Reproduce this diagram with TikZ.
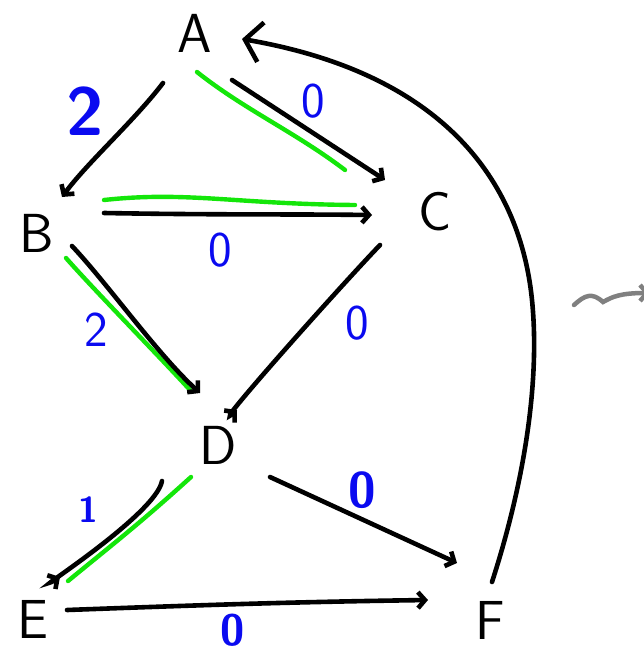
\documentclass[tikz,border=0pt]{standalone}
\usepackage{fontspec}
\usetikzlibrary{arrows.meta}
\definecolor{hlgreen}{RGB}{20,230,10}
\definecolor{lblblue}{RGB}{10,10,240}
\definecolor{sqgray}{RGB}{128,128,128}
\begin{document}
\begin{tikzpicture}[x=1pt,y=-1pt,
  letter/.style={font=\sffamily\fontsize{55}{55}\selectfont, inner sep=0pt},
  wt/.style={text=lblblue, font=\sffamily\fontsize{50}{50}\selectfont, inner sep=0pt},
  wtb/.style={text=lblblue, font=\sffamily\bfseries\fontsize{50}{50}\selectfont, inner sep=0pt},
  edge/.style={draw=black, line width=4.6pt, line cap=round, -{Straight Barb[length=7pt,width=16pt]}},
  hl/.style={draw=hlgreen, line width=4.4pt, line cap=round},
]
\useasboundingbox (0,0) rectangle (644,656);
% vertices
\node[letter] (A) at (195,33) {A};
\node[letter] (B) at (37,233) {B};
\node[letter] (C) at (435,212) {C};
\node[letter] (D) at (218,445) {D};
\node[letter] (E) at (33,619) {E};
\node[letter] (F) at (490,620) {F};
% green highlights
\draw[hl] ([shift={(2,39)}]A.center) .. controls ([shift={(50,77)}]A.center) and ([shift={(-140,-80)}]C.center) .. ([shift={(-90,-42)}]C.center);
\draw[hl] ([shift={(67,-33)}]B.center) .. controls ([shift={(150,-42)}]B.center) and ([shift={(-200,-8)}]C.center) .. ([shift={(-80,-7)}]C.center);
\draw[hl] ([shift={(29,25)}]B.center) .. controls ([shift={(60,60)}]B.center) and ([shift={(-60,-90)}]D.center) .. ([shift={(-28,-55)}]D.center);
\draw[hl] ([shift={(-27,32)}]D.center) .. controls ([shift={(-80,80)}]D.center) and ([shift={(80,-75)}]E.center) .. ([shift={(35,-38)}]E.center);
% edges
\draw[edge] ([shift={(-32,50)}]A.center) .. controls ([shift={(-60,87)}]A.center) and ([shift={(50,-70)}]B.center) .. ([shift={(25,-36)}]B.center);
\draw[edge] ([shift={(37,47)}]A.center) -- ([shift={(-50,-32)}]C.center);
\draw[edge] ([shift={(67,-20)}]B.center) .. controls ([shift={(180,-18)}]B.center) and ([shift={(-150,2)}]C.center) .. ([shift={(-63,3)}]C.center);
\draw[edge] ([shift={(35,13)}]B.center) .. controls ([shift={(70,50)}]B.center) and ([shift={(-60,-90)}]D.center) .. ([shift={(-18,-52)}]D.center);
\draw[edge] ([shift={(-55,33)}]C.center) .. controls ([shift={(-100,80)}]C.center) and ([shift={(-10,-10)}]D.center) .. ([shift={(19,-35)}]D.center);
\draw[edge] ([shift={(-56,36)}]D.center) .. controls ([shift={(-62,70)}]D.center) and ([shift={(-10,-20)}]E.center) .. ([shift={(27,-42)}]E.center);
\draw[edge] ([shift={(52,32)}]D.center) -- ([shift={(-33,-57)}]F.center);
\draw[edge] ([shift={(34,-9)}]E.center) .. controls ([shift={(170,-14)}]E.center) and ([shift={(-200,-18)}]F.center) .. ([shift={(-62,-20)}]F.center);
\draw[draw=black, line width=4.6pt, line cap=round, -{Straight Barb[length=16pt,width=40pt]}]
  ([shift={(2,-38)}]F.center) .. controls (525,480) and (540,380) .. (532,300)
  .. controls (524,220) and (480,80) .. ([shift={(47,6)}]A.center);
% weights
\node[wtb, font=\sffamily\bfseries\fontsize{68}{68}\selectfont] (wAB) at (85,111) {2};
\node[wt] (wAC) at (313,101) {0};
\node[wt] (wBC) at (220,250) {0};
\node[wt] (wBD) at (96,330) {2};
\node[wt] (wCD) at (357,323) {0};
\node[wtb, font=\sffamily\bfseries\fontsize{36}{36}\selectfont] (wDE) at (88,510) {1};
\node[wtb] (wDF) at (362,490) {0};
\node[wtb, font=\sffamily\bfseries\fontsize{44}{44}\selectfont] (wEF) at (233,630) {0};
% squiggle
\coordinate (sq0) at (574,305);
\coordinate (sq1) at (650,293);
\draw[sqgray, line width=4.5pt, line cap=round, -{Straight Barb[length=7pt,width=16pt]}]
  (sq0) .. controls (585,295) and (592,292) .. (603,302) .. controls (612,297) and (620,293) .. (sq1);
\end{tikzpicture}
\end{document}
